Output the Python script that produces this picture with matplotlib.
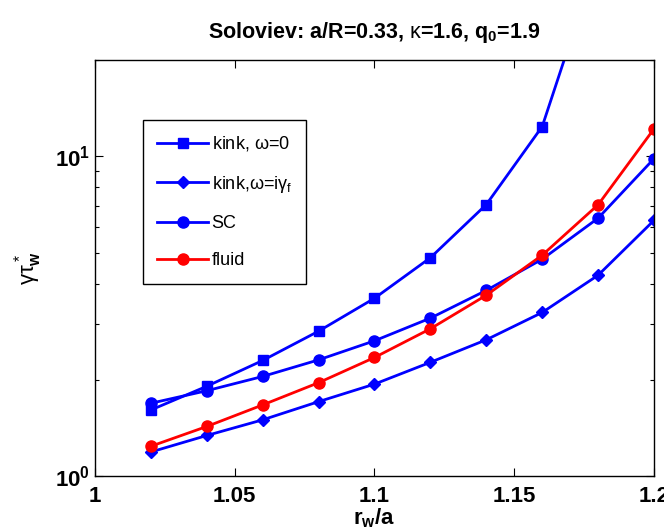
import numpy as np
import matplotlib
matplotlib.use("Agg")
import matplotlib.pyplot as plt
from matplotlib.ticker import LogLocator, NullFormatter

plt.rcParams['font.family'] = ['Liberation Sans', 'DejaVu Sans']
plt.rcParams['mathtext.fontset'] = 'custom'
plt.rcParams['mathtext.rm'] = 'Liberation Sans'
plt.rcParams['mathtext.it'] = 'Liberation Sans'
plt.rcParams['mathtext.bf'] = 'Liberation Sans:bold'

x = [1.02, 1.04, 1.06, 1.08, 1.10, 1.12, 1.14, 1.16, 1.18, 1.20]
kink_w0 = [1.61, 1.91, 2.30, 2.84, 3.60, 4.82, 7.07, 12.4, 42.0]
kink_wig = [1.19, 1.34, 1.50, 1.71, 1.94, 2.27, 2.67, 3.25, 4.25, 6.31]
sc = [1.69, 1.85, 2.05, 2.31, 2.65, 3.12, 3.81, 4.77, 6.41, 9.84]
fluid = [1.24, 1.43, 1.67, 1.96, 2.35, 2.89, 3.68, 4.91, 7.06, 12.2]

xticks = [1, 1.05, 1.1, 1.15, 1.2]
xticklabels = ['1', '1.05', '1.1', '1.15', '1.2']

fig = plt.figure(figsize=(6.64, 5.32), dpi=100)
ax = fig.add_axes([0.143, 0.105, 0.842, 0.782])

blue = '#0000ff'
red = '#ff0000'
ax.plot(x[:len(kink_w0)], kink_w0, '-s', color=blue, lw=2, ms=6.5, label=r'kink, $\omega$=0')
ax.plot(x, kink_wig, '-D', color=blue, lw=2, ms=6.5, label=r'kink,$\omega$=i$\gamma_\mathregular{f}$')
ax.plot(x, sc, '-o', color=blue, lw=2, ms=8, label='SC')
ax.plot(x, fluid, '-o', color=red, lw=2, ms=8, label='fluid')

ax.set_yscale('log')
ax.set_xlim(1, 1.2)
ax.set_ylim(1, 20)
ax.set_xticks(xticks)
ax.set_xticklabels(xticklabels, fontsize=16, fontweight='bold')
ax.set_yticks([1, 10])
ax.set_yticklabels([r'$\mathbf{10^0}$', r'$\mathbf{10^1}$'], fontsize=16)
ax.yaxis.set_minor_locator(LogLocator(base=10, subs=np.arange(2, 10)))
ax.yaxis.set_minor_formatter(NullFormatter())
ax.tick_params(which='both', direction='in', top=True, right=True, width=0.8)
ax.tick_params(axis='x', which='major', pad=7)
ax.tick_params(which='major', length=6)
ax.tick_params(which='minor', length=3)
for s in ax.spines.values():
    s.set_linewidth(1.0)

ax.set_xlabel(r'$\mathbf{r_w/a}$', fontsize=16, labelpad=0)
ax.set_ylabel(r'$\gamma\tau^*_\mathbf{w}$', fontsize=16, labelpad=8)
ax.set_title(r'Soloviev: a/R=0.33, $\kappa$=1.6, q$_\mathbf{0}$=1.9', fontsize=15.5,
             fontweight='bold', pad=16)

leg = ax.legend(loc='upper left', bbox_to_anchor=(0.086, 0.856), borderaxespad=0,
                fontsize=13, frameon=True, fancybox=False, edgecolor='black', framealpha=1,
                labelspacing=1.12, handlelength=2.8, borderpad=0.8, handletextpad=0.2)
leg.get_frame().set_linewidth(1.0)

fig.savefig('out.png', dpi=100)
